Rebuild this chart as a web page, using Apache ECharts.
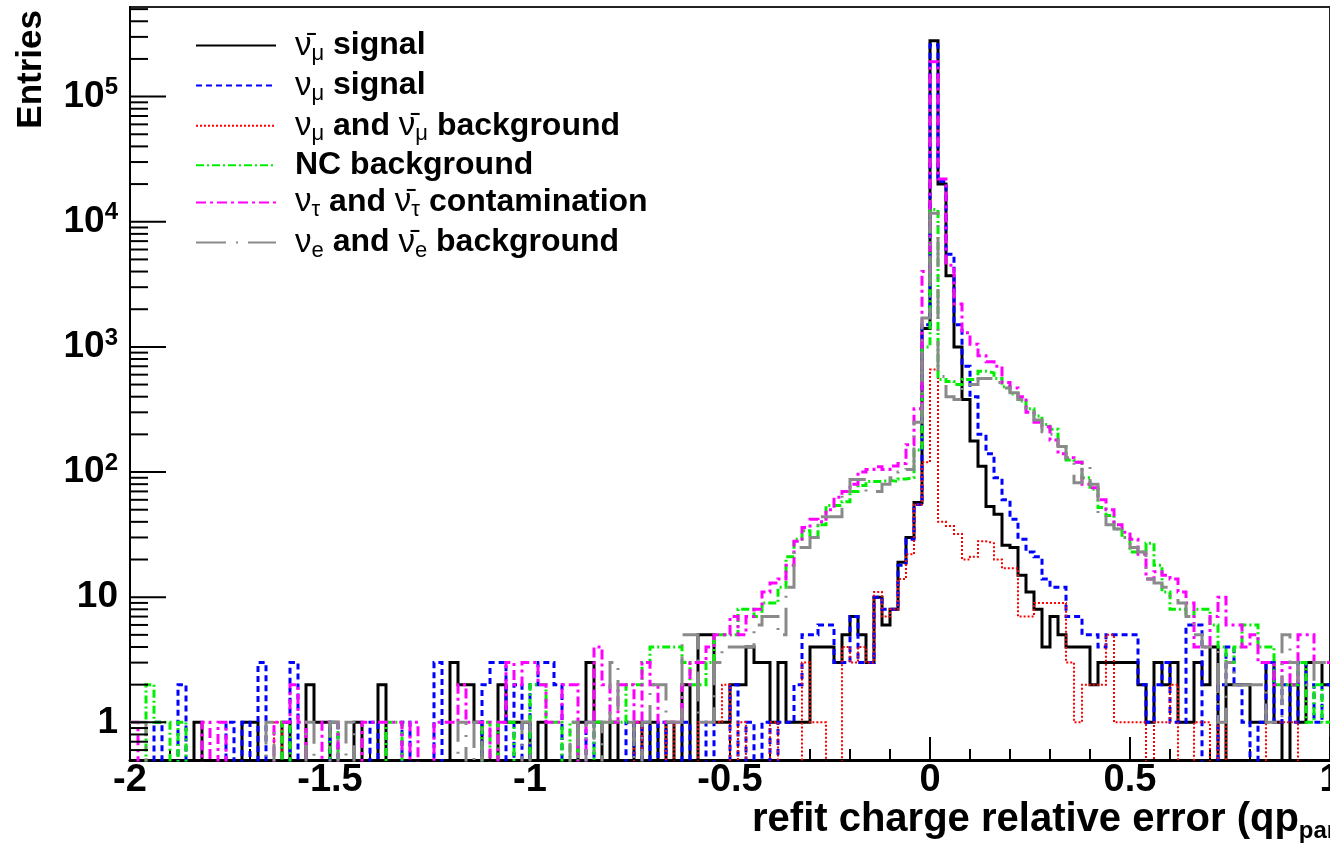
<!DOCTYPE html>
<html><head><meta charset="utf-8">
<script src="https://cdn.jsdelivr.net/npm/echarts/dist/echarts.min.js"></script>
<style>html,body{margin:0;padding:0;background:#fff}#c{width:1330px;height:844px}</style>
</head><body><div id="c"></div>
<script>
// ---- DATA ----
const xTickLabels = [-2, -1.5, -1, -0.5, 0, 0.5, 1];
const yMajorTicks = [1, 10, 100, 1000, 10000, 100000];
const yMinorTicks = [0.6, 0.7, 0.8, 0.9, 2, 3, 4, 5, 6, 7, 8, 9, 20, 30, 40, 50, 60, 70, 80, 90,
  200, 300, 400, 500, 600, 700, 800, 900, 2000, 3000, 4000, 5000, 6000, 7000, 8000, 9000,
  20000, 30000, 40000, 50000, 60000, 70000, 80000, 90000, 200000, 300000, 400000, 500000];
const binCount = 150; // bins of width 0.02 from -2 to 1
const seriesNames = ['nubar_mu signal', 'nu_mu signal', 'nu_mu and nubar_mu background', 'NC background', 'nu_tau and nubar_tau contamination', 'nu_e and nubar_e background'];
const legendLabels = [
  '{g|ν̄}{s|μ}{t| signal}',
  '{g|ν}{s|μ}{t| signal}',
  '{g|ν}{s|μ}{t| and }{g|ν̄}{s|μ}{t| background}',
  '{t|NC background}',
  '{g|ν}{s|τ}{t| and }{g|ν̄}{s|τ}{t| contamination}',
  '{g|ν}{s|e}{t| and }{g|ν̄}{s|e}{t| background}'
];
const numubarSignal = [
  0,0,0,0,0,0,0,0,1,0, 0,0,0,0,1,1,0,0,0,1, 0,0,2,1,1,0,0,0,1,0, 0,2,0,0,0,0,0,0,0,0,
  3,2,2,1,0,0,2,1,1,1, 0,1,0,0,0,0,1,3,1,0, 1,0,0,1,0,1,0,1,0,2, 0,5,5,1,1,2,2,4,3,3,
  1,3,1,1,1,4,4,4,3,5, 7,5,3,10,6,8,19,30,57,1400,
  280000,20000,3700,1000,380,177,111,53,46,26, 25,15,11,8,4,7,5,4,4,4,
  2,3,3,3,3,3,2,1,3,2, 3,1,1,3,2,4,0,2,2,2, 1,1,3,1,0,2,1,3,3,2];
const numuSignal = [
  0,0,0,1,0,0,2,0,0,0, 0,0,1,0,1,0,3,0,0,0, 3,0,0,0,0,1,0,0,0,0, 1,0,0,0,1,0,0,0,3,0,
  0,0,0,0,2,3,3,0,2,0, 2,3,3,2,0,0,0,1,0,0, 0,0,1,0,1,0,1,0,0,1, 0,0,1,0,0,2,0,1,0,1,
  0,1,1,2,5,5,6,6,3,3, 7,3,3,10,8,8,18,29,55,1500,
  260000,21000,5500,1500,700,400,200,140,90,60, 42,29,23,21,14,12,12,7,7,5,
  5,4,5,5,5,5,2,1,2,3, 1,1,6,6,0,0,2,4,2,1, 0,1,3,1,2,1,3,2,1,2];
const numuBackground = [
  0,0,0,0,0,0,0,0,0,0, 0,0,0,0,0,0,0,0,1,0, 0,0,0,0,0,0,0,0,0,0, 0,0,0,0,0,0,0,0,0,0,
  0,0,0,0,0,0,0,0,0,0, 0,0,0,0,0,0,0,0,0,0, 0,0,0,1,0,0,0,1,0,0, 0,1,1,1,2,0,1,0,0,0,
  1,0,0,0,3,1,1,0,0,4, 3,4,3,11,7,8,14,22,55,120,
  660,40,37,32,20,21,28,27,20,17, 17,7,7,9,9,9,9,3,1,2,
  2,2,5,1,1,1,1,0,1,1, 2,0,0,1,1,0,1,0,0,0, 0,0,1,1,1,1,0,0,0,0];
const ncBackground = [
  0,0,2,1,1,0,1,0,0,0, 0,0,0,0,0,0,0,0,0,1, 0,0,0,0,0,1,0,0,0,0, 0,0,1,1,0,0,0,0,0,0,
  0,0,0,0,1,0,1,1,0,0, 2,2,1,1,0,1,0,0,1,1, 1,1,2,2,3,4,4,4,4,3, 2,2,3,5,5,5,8,8,7,9,
  9,12,21,29,34,30,38,54,54,58, 70,78,84,84,86,84,88,90,150,1000,
  12500,550,530,500,550,550,640,620,560,480, 420,370,320,280,240,220,160,125,120,90,
  73,52,45,35,30,23,23,27,18,11, 8,8,7,8,8,6,4,3,4,6, 6,4,4,2,2,2,3,1,2,1];
const nutauContamination = [
  1,0,0,0,0,0,0,0,0,1, 0,1,0,0,0,0,0,0,1,1, 2,1,0,0,1,1,0,0,0,1, 1,1,1,1,0,1,0,0,1,1,
  1,2,1,1,1,0,1,3,2,3, 3,2,1,1,2,2,0,1,4,2, 1,2,2,1,3,2,1,1,1,2, 3,3,4,5,5,7,5,7,8,11,
  13,14,18,28,36,42,40,50,63,70, 80,100,105,110,105,112,117,165,320,4000,
  190000,22000,4500,2200,1300,1050,850,760,700,520, 470,400,300,250,230,180,140,130,120,80,
  75,60,50,38,33,29,22,14,16,15, 14,11,9,4,4,7,10,6,6,4, 5,3,3,2,3,2,5,5,3,3];
const nueBackground = [
  1,1,0,0,0,0,0,0,0,0, 0,0,0,0,0,0,0,1,0,0, 0,0,1,0,0,1,0,1,0,0, 0,0,0,0,0,0,0,0,0,0,
  0,1,0,1,0,0,0,0,0,1, 0,0,0,0,0,1,0,1,0,1, 3,1,1,0,1,2,2,1,1,5, 5,1,1,3,4,4,4,4,6,7,
  7,5,12,25,25,30,44,44,44,70, 87,87,70,70,80,90,100,105,250,1700,
  11700,580,400,380,500,500,560,560,520,470, 430,380,320,260,210,200,160,130,82,110,
  80,47,38,35,30,25,23,14,13,12, 10,9,7,5,4,4,1,3,2,2, 2,2,1,1,5,3,2,2,3,3];
const allValues = [numubarSignal, numuSignal, numuBackground, ncBackground, nutauContamination, nueBackground];

// ---- STYLE ----
const FONT = '"Liberation Sans", Arial, Helvetica, sans-serif';
const styles = [
  {color: '#000000', width: 3, type: 'solid'},
  {color: '#0000ff', width: 3, type: [6, 4]},
  {color: '#ff0000', width: 2, type: [2, 2]},
  {color: '#00ee00', width: 3, type: [8, 3, 2, 3]},
  {color: '#ff00ff', width: 3, type: [10, 4, 3, 4]},
  {color: '#8a8a8a', width: 3, type: [30, 10, 2, 10]}
];
const FLOOR = 0.1; // empty bins drop below the frame, as in ROOT
const binLeft = Array.from({length: binCount}, (_, i) => Math.round((-2 + 0.02 * i) * 100) / 100);
function histData(vals) {
  const d = vals.map((v, i) => [binLeft[i], v > 0 ? v : FLOOR]);
  const last = vals[vals.length - 1];
  d.push([1, last > 0 ? last : FLOOR]);
  return d;
}

const lineSeries = allValues.map((vals, k) => ({
  name: seriesNames[k], type: 'line', step: 'end', symbol: 'none', showSymbol: false,
  data: histData(vals), clip: true, animation: false, silent: true,
  color: styles[k].color,
  itemStyle: {color: styles[k].color, opacity: 0},
  lineStyle: {color: styles[k].color, width: styles[k].width, type: styles[k].type, cap: 'butt', join: 'miter'},
  z: 2 + k
}));

const tickData = yMajorTicks.map(v => [-2, v, 1]).concat(yMinorTicks.map(v => [-2, v, 0]));
const tickSeries = {
  type: 'custom', silent: true, animation: false, z: 20, clip: false,
  data: tickData,
  renderItem: function (params, api) {
    const p = api.coord([api.value(0), api.value(1)]);
    const len = api.value(2) ? 36 : 18;
    return {type: 'line', shape: {x1: p[0], y1: p[1], x2: p[0] + len, y2: p[1]}, style: {stroke: '#000', lineWidth: 2}};
  }
};

const chart = echarts.init(document.getElementById('c'), null, {renderer: 'canvas'});
chart.setOption({
  animation: false,
  backgroundColor: '#ffffff',
  textStyle: {fontFamily: FONT},
  grid: {left: 130, right: 0, top: 7, bottom: 84, containLabel: false, outerBoundsMode: 'none',
    show: true, borderColor: '#222', borderWidth: 2, backgroundColor: '#fff'},
  legend: {
    show: true, orient: 'vertical', left: 195, top: 29, itemWidth: 80, itemHeight: 14, itemGap: 4.6,
    selectedMode: false, data: seriesNames, padding: 0,
    itemStyle: {opacity: 0, borderWidth: 0},
    formatter: name => legendLabels[seriesNames.indexOf(name)],
    textStyle: {
      color: '#000', fontFamily: FONT, padding: [0, 0, 0, 14],
      rich: {
        t: {fontSize: 32, fontWeight: 'bold', fontFamily: FONT, color: '#000', lineHeight: 38},
        g: {fontSize: 33, fontWeight: 'normal', fontFamily: FONT, color: '#000', lineHeight: 38},
        s: {fontSize: 22, fontWeight: 'normal', fontFamily: FONT, color: '#000', lineHeight: 12, verticalAlign: 'bottom'}
      }
    }
  },
  xAxis: {
    type: 'value', min: xTickLabels[0], max: xTickLabels[xTickLabels.length - 1], interval: 0.5,
    axisLine: {show: true, onZero: false, lineStyle: {color: '#000', width: 3}},
    axisTick: {show: true, inside: true, length: 23, lineStyle: {color: '#000', width: 2}},
    minorTick: {show: true, splitNumber: 5, length: 11, lineStyle: {color: '#000', width: 2}},
    splitLine: {show: false}, minorSplitLine: {show: false},
    axisLabel: {show: true, margin: 2, color: '#000', fontSize: 38, fontWeight: 'bold', fontFamily: FONT,
      showMinLabel: true, showMaxLabel: true, hideOverlap: false}
  },
  yAxis: {
    type: 'log', logBase: 10, min: 0.5, max: 520000,
    axisLine: {show: true, onZero: false, lineStyle: {color: '#000', width: 2}},
    axisTick: {show: false}, minorTick: {show: false},
    splitLine: {show: false},
    axisLabel: {
      show: true, margin: 12, color: '#000', align: 'right',
      formatter: function (v) {
        const e = Math.log10(v);
        if (v < 1 || Math.abs(e - Math.round(e)) > 1e-6) return '';
        const k = Math.round(e);
        if (k === 0) return '{b|1}';
        if (k === 1) return '{b|10}';
        return '{b|10}{p|' + k + '}';
      },
      rich: {
        b: {fontSize: 37, fontWeight: 'bold', fontFamily: FONT, color: '#000', lineHeight: 42},
        p: {fontSize: 24, fontWeight: 'bold', fontFamily: FONT, color: '#000', lineHeight: 10, verticalAlign: 'top'}
      }
    }
  },
  graphic: [
    {type: 'text', x: 31, y: 10, rotation: Math.PI / 2, silent: true,
      style: {text: 'Entries', fill: '#000', font: 'bold 35px ' + FONT, align: 'right', verticalAlign: 'middle'}},
    {type: 'text', x: 752, y: 796, silent: true,
      style: {text: '{t|refit charge relative error (qp}{s|part}', verticalAlign: 'top', align: 'left',
        rich: {
          t: {fontSize: 40, fontWeight: 'bold', fontFamily: FONT, color: '#000', lineHeight: 47},
          s: {fontSize: 24, fontWeight: 'bold', fontFamily: FONT, color: '#000', lineHeight: 14, verticalAlign: 'bottom'}
        }}}
  ],
  series: lineSeries.concat([tickSeries])
});
</script>
</body></html>
